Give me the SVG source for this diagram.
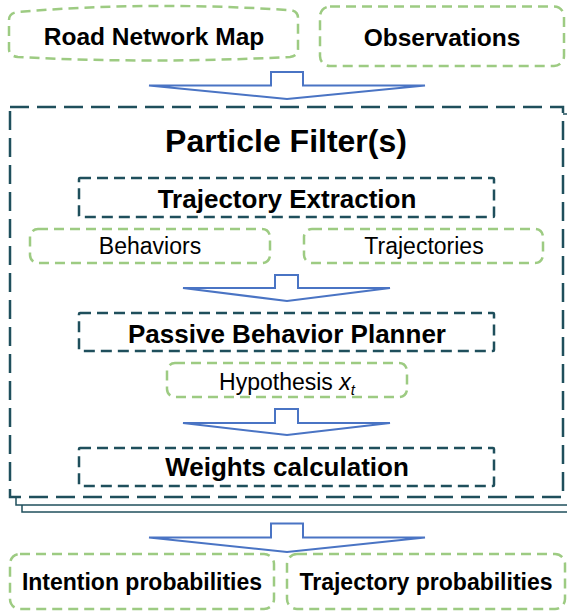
<svg xmlns="http://www.w3.org/2000/svg" width="567" height="611" viewBox="0 0 567 611">
  <style>
    .green { fill: #ffffff; stroke: #9dcb82; stroke-width: 2.5; stroke-dasharray: 10 6; }
    .teal { fill: #ffffff; stroke: #1f4f5c; stroke-width: 2.5; stroke-dasharray: 11 6; }
    .frame { fill: #ffffff; stroke: #1f4f5c; stroke-width: 2.5; stroke-dasharray: 19 8; }
    .layer { fill: #ffffff; stroke: #1f4f5c; stroke-width: 1.5; }
    .arrow { fill: #ffffff; stroke: #4a74c4; stroke-width: 2; stroke-linejoin: miter; }
    .b { font-family: "Liberation Sans", Arial, sans-serif; font-weight: bold; fill: #000000; text-anchor: middle; }
    .r { font-family: "Liberation Sans", Arial, sans-serif; fill: #000000; text-anchor: middle; }
  </style>

  <!-- inputs -->
  <g id="road-network-map">
    <path class="green" d="M 9,20 Q 9,13 18,12 Q 150,1 288,10 Q 298,10 298,18 L 298,49 Q 298,56 290,57 Q 150,64 18,57 Q 9,56 9,49 Z"/>
    <text class="b" x="154" y="45" font-size="24.5">Road Network Map</text>
  </g>
  <g id="observations">
    <rect class="green" x="320" y="6.5" width="244" height="59.5" rx="10"/>
    <text class="b" x="442" y="46" font-size="24.5">Observations</text>
  </g>

  <!-- stacked particle filter frames -->
  <g id="particle-filters">
    <rect class="layer" x="22" y="121" width="553" height="391"/>
    <rect class="layer" x="16" y="114" width="553" height="391"/>
    <rect class="frame" x="10" y="107" width="553" height="390"/>
    <text class="b" x="286" y="152" font-size="32">Particle Filter(s)</text>
  </g>

  <g id="trajectory-extraction">
    <rect class="teal" x="79" y="178" width="415" height="39" rx="1"/>
    <text class="b" x="287" y="208" font-size="26">Trajectory Extraction</text>
  </g>
  <g id="behaviors">
    <rect class="green" x="30" y="229" width="240" height="34" rx="8"/>
    <text class="r" x="150" y="254" font-size="23">Behaviors</text>
  </g>
  <g id="trajectories">
    <rect class="green" x="304" y="229" width="239" height="34" rx="8"/>
    <text class="r" x="424" y="254" font-size="23">Trajectories</text>
  </g>
  <g id="passive-behavior-planner">
    <rect class="teal" x="79" y="313" width="415" height="38" rx="1"/>
    <text class="b" x="287" y="343" font-size="26">Passive Behavior Planner</text>
  </g>
  <g id="hypothesis">
    <rect class="green" x="167" y="363" width="240" height="34" rx="8"/>
    <text class="r" x="287" y="390" font-size="23">Hypothesis <tspan font-style="italic">x</tspan><tspan font-style="italic" font-size="15" dy="5">t</tspan></text>
  </g>
  <g id="weights-calculation">
    <rect class="teal" x="79" y="448" width="415" height="38" rx="1"/>
    <text class="b" x="287" y="476" font-size="26">Weights calculation</text>
  </g>

  <!-- outputs -->
  <g id="intention-probabilities">
    <rect class="green" x="10" y="554" width="264" height="55" rx="10"/>
    <text class="b" x="142" y="590" font-size="23">Intention probabilities</text>
  </g>
  <g id="trajectory-probabilities">
    <rect class="green" x="287" y="554" width="278" height="55" rx="10"/>
    <text class="b" x="426" y="590" font-size="23">Trajectory probabilities</text>
  </g>

  <!-- block arrows -->
  <g id="connectors">
    <polygon class="arrow" points="149,85.5 271,85.5 271,72 303,72 303,85.5 425,85.5 287,99"/>
    <polygon class="arrow" points="183,288 275,288 275,275 298,275 298,288 390,288 287,301"/>
    <polygon class="arrow" points="183,423 275,423 275,409 298,409 298,423 390,423 287,435"/>
    <polygon class="arrow" points="149,537.5 271,537.5 271,523.5 303,523.5 303,537.5 425,537.5 287,552"/>
  </g>
</svg>
